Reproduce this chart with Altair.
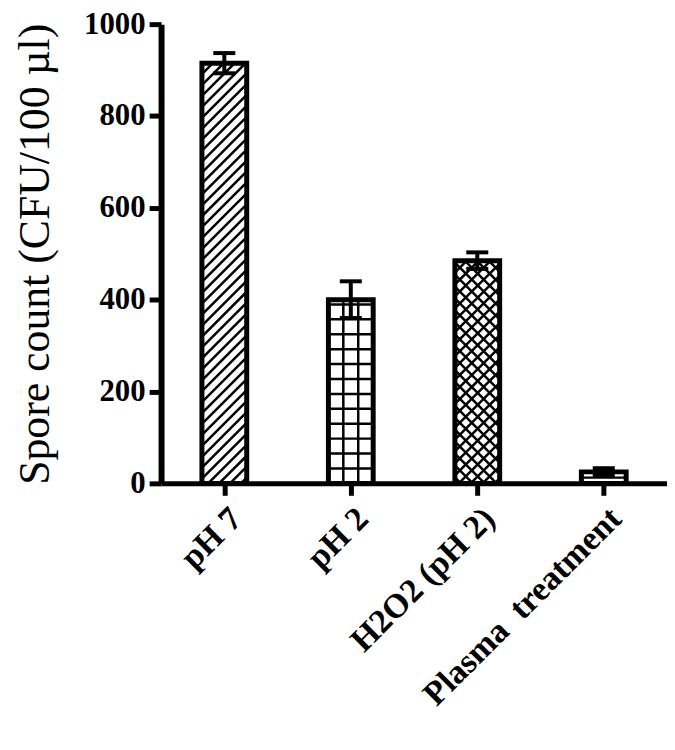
import altair as alt
import pandas as pd

categories = ["pH 7", "pH 2", "H2O2 (pH 2)", "Plasma\u00a0 treatment"]
values = [915, 400, 485, 25]
errors = [22, 40, 18, 8]
patterns = ["diag", "grid", "cross", "horiz"]

W, H = 509, 462
YMAX = 1000
PX_X = W / 4.0       # pixels per x unit
PX_Y = H / YMAX      # pixels per y unit
HALF = 0.177         # half bar width in x units
CAP = 0.087          # half cap width in x units

bars = pd.DataFrame({
    "cat": categories,
    "x0": [i + 0.5 - HALF for i in range(4)],
    "x1": [i + 0.5 + HALF for i in range(4)],
    "xc": [i + 0.5 for i in range(4)],
    "y": values,
    "lo": [v - e for v, e in zip(values, errors)],
    "hi": [v + e for v, e in zip(values, errors)],
    "c0": [i + 0.5 - CAP for i in range(4)],
    "c1": [i + 0.5 + CAP for i in range(4)],
})

# hatch segments, computed in pixel space inside each bar, converted to data units
segs = []
for i, (v, p) in enumerate(zip(values, patterns)):
    w = 2 * HALF * PX_X
    h = v * PX_Y
    left = i + 0.5 - HALF
    def add(xa, ya, xb, yb):
        segs.append({"x": left + xa / PX_X, "y": ya / PX_Y,
                     "x2": left + xb / PX_X, "y2": yb / PX_Y})
    if p in ("diag", "cross"):
        s = 11.0 if p == "diag" else 12.0
        c = -h
        while c < w:
            xs, xe = max(0, c), min(w, h + c)
            if xe > xs:
                add(xs, xs - c, xe, xe - c)
            c += s
    if p == "cross":
        s = 12.0
        c = s / 2
        while c < w + h:
            xs, xe = max(0, c - h), min(w, c)
            if xe > xs:
                add(xs, c - xs, xe, c - xe)
            c += s
    if p == "grid":
        s = 15.0
        x = s
        while x < w - 2:
            add(x, 0, x, h)
            x += s
        y = s
        while y < h - 2:
            add(0, y, w, y)
            y += s
    if p == "horiz":
        y = h / 2
        add(0, y, w, y)

hatch = pd.DataFrame(segs)

xscale = alt.Scale(domain=[0, 4], nice=False, zero=False)
yscale = alt.Scale(domain=[0, YMAX], nice=False)

label_expr = "[" + ",".join("'" + c + "'" for c in categories) + "][floor(datum.value)]"

xaxis = alt.Axis(values=[0.5, 1.5, 2.5, 3.5], labelExpr=label_expr, title=None,
                 labelAngle=-45, labelFont="Liberation Serif", labelFontSize=34,
                 labelFontWeight="bold", labelColor="black", tickSize=12, tickWidth=5,
                 tickColor="black", domainColor="black", domainWidth=5, grid=False,
                 labelPadding=6, labelOverlap=False, labelLimit=0)
yaxis = alt.Axis(values=[0, 200, 400, 600, 800, 1000], format="d",
                 title="Spore count (CFU/100 \u00b5l)",
                 labelFont="Liberation Serif", labelFontSize=31, labelFontWeight="bold",
                 labelColor="black", titleFont="Liberation Serif", titleFontSize=44,
                 titleFontWeight="normal", titleColor="black", tickSize=12, tickWidth=5,
                 tickColor="black", domainColor="black", domainWidth=6, grid=False,
                 labelPadding=4, titlePadding=26)

base = alt.Chart(bars)

fill = base.mark_rect(fill="white").encode(
    x=alt.X("x0:Q", scale=xscale, axis=xaxis),
    x2="x1", y=alt.Y("y:Q", scale=yscale, axis=yaxis), y2=alt.datum(0))

lines = alt.Chart(hatch).mark_rule(color="black", strokeWidth=2.5).encode(
    x=alt.X("x:Q", scale=xscale), y=alt.Y("y:Q", scale=yscale), x2="x2", y2="y2")

outline = base.mark_rect(fillOpacity=0, stroke="black", strokeWidth=5).encode(
    x=alt.X("x0:Q", scale=xscale), x2="x1", y=alt.Y("y:Q", scale=yscale), y2=alt.datum(0))

err = base.mark_rule(color="black", strokeWidth=4).encode(
    x=alt.X("xc:Q", scale=xscale), y=alt.Y("lo:Q", scale=yscale), y2="hi")
cap_hi = base.mark_rule(color="black", strokeWidth=4).encode(
    x=alt.X("c0:Q", scale=xscale), x2="c1", y=alt.Y("hi:Q", scale=yscale))
cap_lo = base.mark_rule(color="black", strokeWidth=4).encode(
    x=alt.X("c0:Q", scale=xscale), x2="c1", y=alt.Y("lo:Q", scale=yscale))

chart = alt.layer(fill, lines, outline, err, cap_hi, cap_lo).properties(
    width=W, height=H,
    background="white",
    autosize=alt.AutoSizeParams(type="none"),
    padding={"left": 154, "top": 14, "right": 0, "bottom": 264},
).configure_view(strokeWidth=0, stroke="transparent").configure_axis(grid=False)

chart.save("out.html", embed_options={"renderer": "svg", "actions": False})
